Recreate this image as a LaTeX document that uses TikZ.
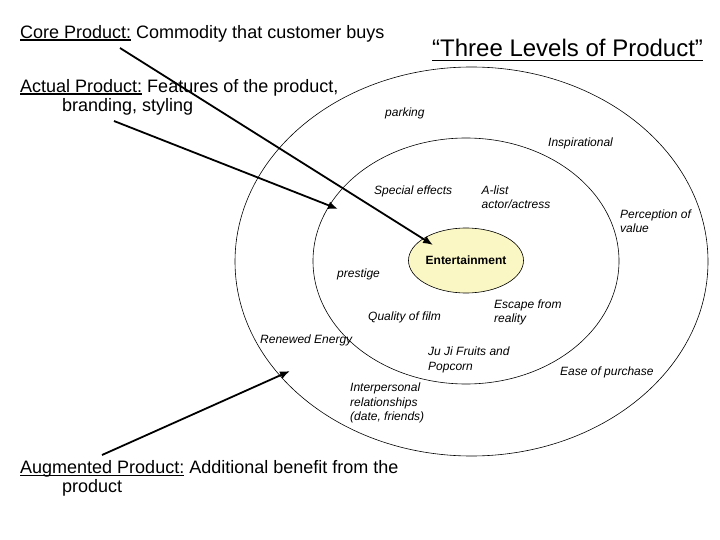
\documentclass[tikz,border=0pt]{standalone}
\usepackage{fontspec}
\setmainfont{Liberation Sans}
\usetikzlibrary{arrows.meta,shapes.geometric}
\definecolor{coreyellow}{RGB}{250,247,196}
\newcommand\undertext[3]{\setbox0\hbox{#3}\rlap{\rule[-#1]{\wd0}{#2}}\box0\relax}

\begin{document}
\begin{tikzpicture}[x=1pt,y=-1pt,
  ring/.style={draw,ellipse,inner sep=0pt,line width=0.6pt},
  prodlevel/.style={anchor=base west,inner sep=0pt,align=left,font=\fontsize{18}{19}\selectfont},
  attr/.style={anchor=base west,inner sep=0pt,align=left,font=\fontsize{12}{14.7}\selectfont\itshape},
  pointer/.style={line width=1.8pt,-{Latex[length=10pt,width=8pt]}}]
  \useasboundingbox (0,0) rectangle (720,540);
  \node[ring,minimum width=473pt,minimum height=389pt] (augring) at (471.5,261.5) {};
  \node[ring,minimum width=306pt,minimum height=246pt] (actring) at (466,261) {};
  \node[ring,fill=coreyellow,minimum width=115pt,minimum height=65pt,font=\fontsize{12}{14}\selectfont\bfseries] (entertain) at (466,260.5) {Entertainment};
  \node[anchor=base west,inner sep=0pt,font=\fontsize{24}{28}\selectfont] (title) at (432,56.7) {\undertext{4.7pt}{1.6pt}{“Three Levels of Product”}};
  \node[prodlevel] (core) at (20,38.3) {\undertext{2.4pt}{1.2pt}{Core Product:} Commodity that customer buys};
  \node[prodlevel] (actual) at (20,111.3) {\undertext{2.4pt}{1.2pt}{Actual Product:} Features of the product,\\\hspace*{42pt}branding, styling};
  \node[prodlevel] (augmented) at (20,492.5) {\undertext{2.4pt}{1.2pt}{Augmented Product:} Additional benefit from the\\\hspace*{42pt}product};
  \node[attr] (parking) at (385,116.7) {parking};
  \node[attr] (inspire) at (548,146.7) {Inspirational};
  \node[attr] (effects) at (374,194.3) {Special effects};
  \node[attr] (alist) at (481.5,209) {A-list\\actor/actress};
  \node[attr] (perception) at (620,233) {Perception of\\value};
  \node[attr] (prestige) at (337,277) {prestige};
  \node[attr] (escape) at (494,322.7) {Escape from\\reality};
  \node[attr] (quality) at (368,320) {Quality of film};
  \node[attr] (renewed) at (260,343) {Renewed Energy};
  \node[attr] (jujifruits) at (428,370.4) {Ju Ji Fruits and\\Popcorn};
  \node[attr] (purchase) at (560,375) {Ease of purchase};
  \node[attr] (relations) at (350,420.7) {Interpersonal\\relationships\\(date, friends)};
  \coordinate (coretail) at (120,48);
  \coordinate (coretip) at (433,245);
  \coordinate (actualtail) at (114,121);
  \coordinate (actualtip) at (338,209);
  \coordinate (augtail) at (102,455);
  \coordinate (augtip) at (290,371);
  \draw[pointer] (coretail) -- (coretip);
  \draw[pointer] (actualtail) -- (actualtip);
  \draw[pointer] (augtail) -- (augtip);
\end{tikzpicture}
\end{document}
